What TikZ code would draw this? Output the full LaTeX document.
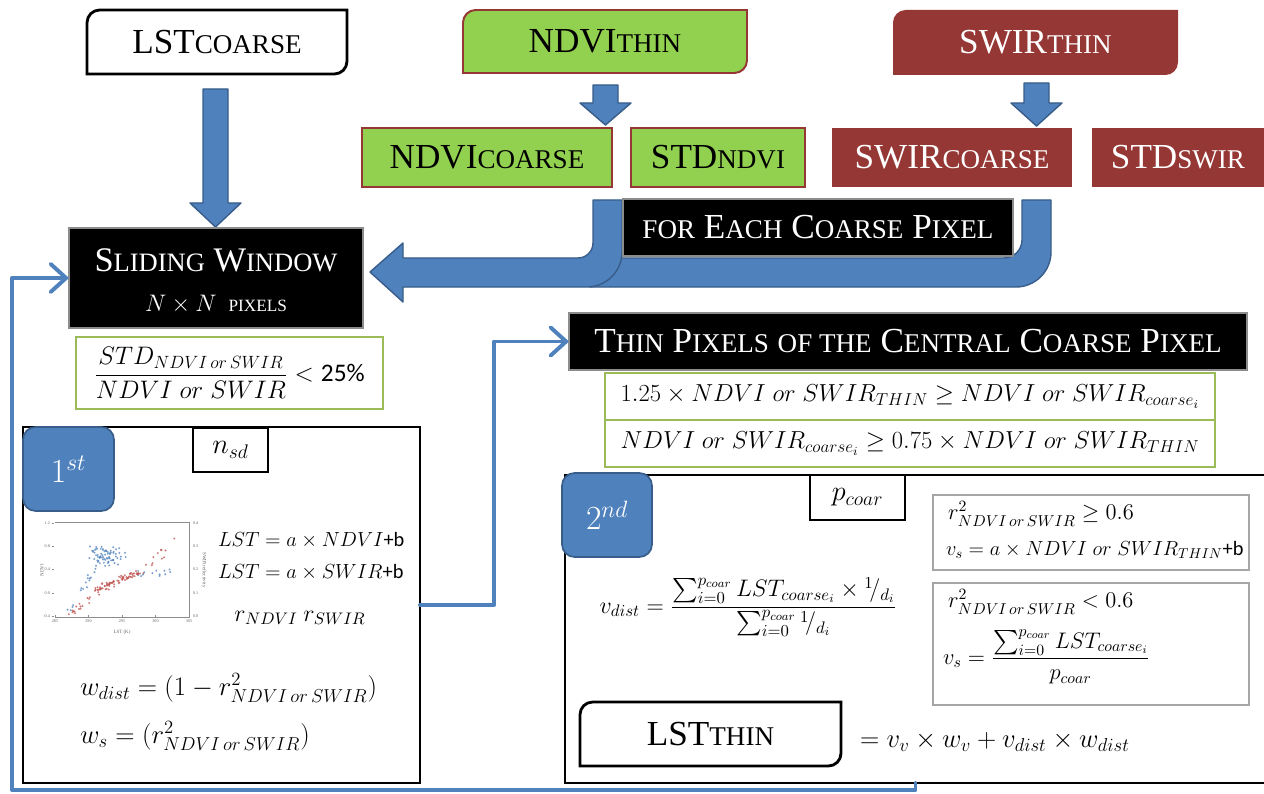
\RequirePackage{fix-cm}
\documentclass[tikz,border=0pt]{standalone}
\usepackage{amsmath}
\usepackage{fontspec}
\setmainfont{Liberation Serif}
\setsansfont{Carlito}
\usepackage{graphicx}
\usetikzlibrary{arrows.meta,calc,backgrounds}

\definecolor{bblue}{RGB}{79,129,189}
\definecolor{bblueD}{RGB}{56,93,138}
\definecolor{ngreen}{RGB}{146,208,80}
\definecolor{dred}{RGB}{149,55,53}
\definecolor{lgreen}{RGB}{155,187,89}
\definecolor{gbrd}{RGB}{166,166,166}
\definecolor{rpt}{RGB}{192,80,77}

\newcommand{\fs}[1]{\fontsize{#1}{#1}\selectfont}
\newcommand{\sce}[1]{\scalebox{0.77}{#1}}
\newcommand{\nos}{NDVI\,or\,SWIR}
\newcommand{\rdbox}[2]{\path[#2] ([yshift=-9pt]#1.north west) arc[start angle=180,end angle=90,radius=9pt] -- (#1.north east) -- ([yshift=9pt]#1.south east) arc[start angle=0,end angle=-90,radius=9pt] -- (#1.south west) -- cycle;}

\begin{document}
\begin{tikzpicture}[x=0.025cm,y=-0.025cm,
  wh/.style 2 args={minimum width=#1*0.025cm, minimum height=#2*0.025cm},
  base/.style={inner sep=0pt, outer sep=0pt, align=center},
  lab/.style={base, font=\fs{25}},
  greenbox/.style={lab, fill=ngreen, draw=dred, line width=1.4pt},
  redbox/.style={lab, fill=dred, text=white},
  blackbox/.style={base, fill=black, draw=black!45, line width=1pt, text=white},
  condbox/.style={base, draw=lgreen, line width=1.6pt, fill=white},
  graybox/.style={base, draw=gbrd, line width=1.8pt},
  framebox/.style={base, draw=black, line width=1.6pt},
  badge/.style={base, fill=bblue, draw=bblueD, line width=1.2pt, rounded corners=9pt, text=white},
  blockarrow/.style={fill=bblue, draw=bblueD, line width=1pt, line join=round},
  conn/.style={draw=bblue, line width=2.8pt, line cap=round, line join=round, -{Straight Barb[length=11pt,width=20pt,line cap=round]}},
  mathlab/.style={base, anchor=west},
  tick/.style={base, font=\fs{3}, text=black!60},
  bpt/.style={fill=bblue, opacity=0.75},
  rptst/.style={fill=rpt, opacity=0.75},
]
\useasboundingbox (0,0) rectangle (1264,794);
\begin{pgfonlayer}{background}
\fill[white] (0,0) rectangle (1264,794);
\end{pgfonlayer}
\clip (0,0) rectangle (1264,794);

% ---------- top row ----------
\node[lab, wh={260}{64}] (lstc) at (217,42) {LST\sce{COARSE}};
\node[lab, wh={284}{63}] (ndvit) at (605,41.5) {NDVI\sce{THIN}};
\node[lab, wh={285}{65}, text=white] (swirt) at (1035.5,42.5) {SWIR\sce{THIN}};

\node[greenbox, wh={250}{59}] (ndvic) at (487,157.5) {NDVI\sce{COARSE}};
\node[greenbox, wh={174}{59}] (stdn) at (718,157.5) {STD\sce{NDVI}};
\node[redbox, wh={240}{59}] (swirc) at (952,157.5) {SWIR\sce{COARSE}};
\node[redbox, wh={172}{59}] (stds) at (1178,157.5) {STD\sce{SWIR}};

% small block arrows
\path[blockarrow] (593,85) -- (618,85) -- (618,103) -- (631,103) -- (605.5,125) -- (580,103) -- (593,103) -- cycle;
\path[blockarrow] (1024,83) -- (1049,83) -- (1049,103) -- (1062,103) -- (1036.5,126) -- (1011,103) -- (1024,103) -- cycle;
% LST block arrow
\path[blockarrow] (203,89) -- (228,89) -- (228,203) -- (241,203) -- (215.5,227) -- (190,203) -- (203,203) -- cycle;

% U-shaped arrows
\path[blockarrow] (1022,200) -- (1022,240) .. controls (1022,249.9) and (1013.9,258) .. (1004,258) -- (590,258) -- (590,287) -- (1016,287) .. controls (1035.3,287) and (1051,271.3) .. (1051,252) -- (1051,200) -- cycle;
\path[blockarrow] (370,272) -- (403,243) -- (403,258) -- (578,258) .. controls (586.3,258) and (593,251.3) .. (593,243) -- (593,200) -- (622,200) -- (622,252) .. controls (622,271.3) and (606.3,287) .. (587,287) -- (403,287) -- (403,302) -- cycle;

% sliding window
\node[blackbox, wh={294}{100}] (sw) at (216,278) {};
\node[base, text=white, font=\fs{24.5}] (swt) at (216,260) {S\sce{LIDING} W\sce{INDOW}};
\node[base, text=white, font=\fs{17}] (swp) at (216,304) {$N\times N$\ \ \scalebox{0.72}{PIXELS}};

\node[blackbox, font=\fs{25}, wh={390}{57}] (fecp) at (818,227.5) {\sce{FOR} E\sce{ACH} C\sce{OARSE} P\sce{IXEL}};

\node[condbox, wh={307}{72}, font=\fs{18}] (ratio) at (229.5,373) {$\dfrac{STD_{\nos}}{NDVI\;or\;SWIR}<\text{\sffamily 25\%}$};

% thin pixels
\node[blackbox, font=\fs{25}, wh={678}{57}] (tp) at (908,341.5) {T\sce{HIN} P\sce{IXELS} \sce{OF THE} C\sce{ENTRAL} C\sce{OARSE} P\sce{IXEL}};
\node[condbox, wh={610}{47}, font=\fs{17.5}] (c1) at (910,396.5) {$1.25\times NDVI\;or\;SWIR_{THIN}\geq NDVI\;or\;SWIR_{coarse_i}$};
\node[condbox, wh={610}{47}, font=\fs{17.5}] (c2) at (910,443.5) {$NDVI\;or\;SWIR_{coarse_i}\geq 0.75\times NDVI\;or\;SWIR_{THIN}$};

% ---------- first box ----------
\node[framebox, wh={397}{356}] (b1) at (221.5,605) {};
\node[badge, wh={91}{84}, font=\fs{24}] (st1) at (68.5,469) {$1^{st}$};
\node[framebox, fill=white, wh={75}{44}, font=\fs{20}] (nsd) at (230.5,450) {$n_{sd}$};

% scatter plot
\draw[black!45, line width=0.4pt] (55,522) -- (189,522) -- (189,617) -- (55,617);
\foreach \v/\r [count=\k] in {1.2/0.4,0.8/0.3,0.4/0.2,0.0/0.1,-0.4/0.0}{
  \node[tick, anchor=east] (yl\k) at ({50},{593-(\v)*58.5}) {\v};
  \node[tick, anchor=west] (yr\k) at ({193},{593-(\v)*58.5}) {\r};
  \draw[black!45, line width=0.3pt] ({52},{593-(\v)*58.5}) -- ({54},{593-(\v)*58.5});
}
\foreach \t [count=\k] in {285,290,295,300,305}{
  \node[tick, anchor=north] (xl\k) at ({55+(\t-285)*6.7},{620}) {\t};
  \draw[black!45, line width=0.3pt] ({55+(\t-285)*6.7},{617}) -- ({55+(\t-285)*6.7},{615});
}
\node[tick, font=\fs{3.5}] (xlab) at (122,632) {LST (K)};
\node[tick, font=\fs{3.5}, rotate=90] (ylab) at (42,570) {NDVI};
\node[tick, font=\fs{3.5}, rotate=-90] (yrlab) at (204,570) {SWIR reflectivity};
\pgfmathsetseed{42}
\foreach \i in {1,...,75}{
  \pgfmathsetmacro\lx{293+1.5*(rand+rand)}
  \pgfmathsetmacro\ly{0.64+0.1*(rand+rand)}
  \fill[bpt] ({55+(\lx-285)*6.7},{593-\ly*58.5}) circle[radius=1.1];
}
\foreach \i in {1,...,16}{
  \pgfmathsetmacro\tt{rnd}
  \pgfmathsetmacro\lx{287+4*\tt+0.4*rand}
  \pgfmathsetmacro\ly{-0.35+0.8*\tt+0.05*rand}
  \fill[bpt] ({55+(\lx-285)*6.7},{593-\ly*58.5}) circle[radius=1.1];
}
\foreach \i in {1,...,14}{
  \pgfmathsetmacro\lx{297+5.5*rnd}
  \pgfmathsetmacro\ly{0.34+0.07*rand}
  \fill[bpt] ({55+(\lx-285)*6.7},{593-\ly*58.5}) circle[radius=1.1];
}
\foreach \i in {1,...,75}{
  \pgfmathsetmacro\tt{rnd}
  \pgfmathsetmacro\lx{291+6*\tt+0.6*rand}
  \pgfmathsetmacro\ly{0.03+0.32*\tt+0.06*rand}
  \fill[rptst] ({55+(\lx-285)*6.7},{593-\ly*58.5}) circle[radius=1.1];
}
\foreach \i in {1,...,16}{
  \pgfmathsetmacro\tt{rnd}
  \pgfmathsetmacro\lx{287+4*\tt+0.4*rand}
  \pgfmathsetmacro\ly{-0.4+0.4*\tt+0.05*rand}
  \fill[rptst] ({55+(\lx-285)*6.7},{593-\ly*58.5}) circle[radius=1.1];
}
\foreach \i in {1,...,18}{
  \pgfmathsetmacro\tt{rnd}
  \pgfmathsetmacro\lx{297+6*\tt}
  \pgfmathsetmacro\ly{0.3+0.55*\tt+0.1*rand}
  \fill[rptst] ({55+(\lx-285)*6.7},{593-\ly*58.5}) circle[radius=1.1];
}

\node[mathlab, font=\fs{14.5}] (e1) at (218,540) {$LST=a\times NDVI$\textsf{+b}};
\node[mathlab, font=\fs{14.5}] (e2) at (218,572) {$LST=a\times SWIR$\textsf{+b}};
\node[base, font=\fs{17}] (rr) at (300,618) {$r_{NDVI}\ r_{SWIR}$};
\node[mathlab, font=\fs{19}] (wd) at (80,688) {$w_{dist}=(1-r^2_{\nos})$};
\node[mathlab, font=\fs{19}] (ws) at (80,736) {$w_s=(r^2_{\nos})$};

% ---------- second box ----------
\node[framebox, wh={701}{308}] (b2) at (915.5,629) {};
\node[badge, wh={90}{84}, font=\fs{24}] (st2) at (607,515) {$2^{nd}$};
\node[framebox, fill=white, wh={95}{45}, font=\fs{20}] (pco) at (857.5,497.5) {$p_{coar}$};

\node[base, font=\fs{17}] (vd) at (748,607) {$\displaystyle v_{dist}=\frac{\sum_{i=0}^{p_{coar}}LST_{coarse_i}\times{}^{1}\!/_{d_i}}{\sum_{i=0}^{p_{coar}}{}^{1}\!/_{d_i}}$};

\node[graybox, wh={316}{75}] (g1) at (1091,532.5) {};
\node[graybox, wh={316}{122}] (g2) at (1091,644) {};
\node[mathlab, font=\fs{16}] (g1a) at (948,514) {$r^2_{\nos}\geq 0.6$};
\node[mathlab, font=\fs{14.5}] (g1b) at (946,550) {$v_s=a\times NDVI\;or\;SWIR_{THIN}$\textsf{+b}};
\node[mathlab, font=\fs{16}] (g2a) at (948,602) {$r^2_{\nos}<0.6$};
\node[mathlab, font=\fs{16}] (g2b) at (943,657) {$\displaystyle v_s=\frac{\sum_{i=0}^{p_{coar}}LST_{coarse_i}}{p_{coar}}$};

\node[lab, wh={261}{64}] (lstt) at (710.5,734) {LST\sce{THIN}};
\node[mathlab, font=\fs{19}] (fin) at (860,742) {$=v_v\times w_v+v_{dist}\times w_{dist}$};

% ---------- connectors ----------
\draw[conn] (b1.east) -- ++(74,0) |- (tp.west);
\draw[conn] (b2.south) -- ++(0,7) -| ($(sw.west)+(-57,0)$) -- (sw.west);

\begin{pgfonlayer}{background}
\rdbox{lstc}{draw=black, line width=2pt, fill=white}
\rdbox{ndvit}{draw=dred, line width=1.4pt, fill=ngreen}
\rdbox{swirt}{fill=dred}
\rdbox{lstt}{draw=black, line width=2pt, fill=white}
\end{pgfonlayer}
\end{tikzpicture}
\end{document}
